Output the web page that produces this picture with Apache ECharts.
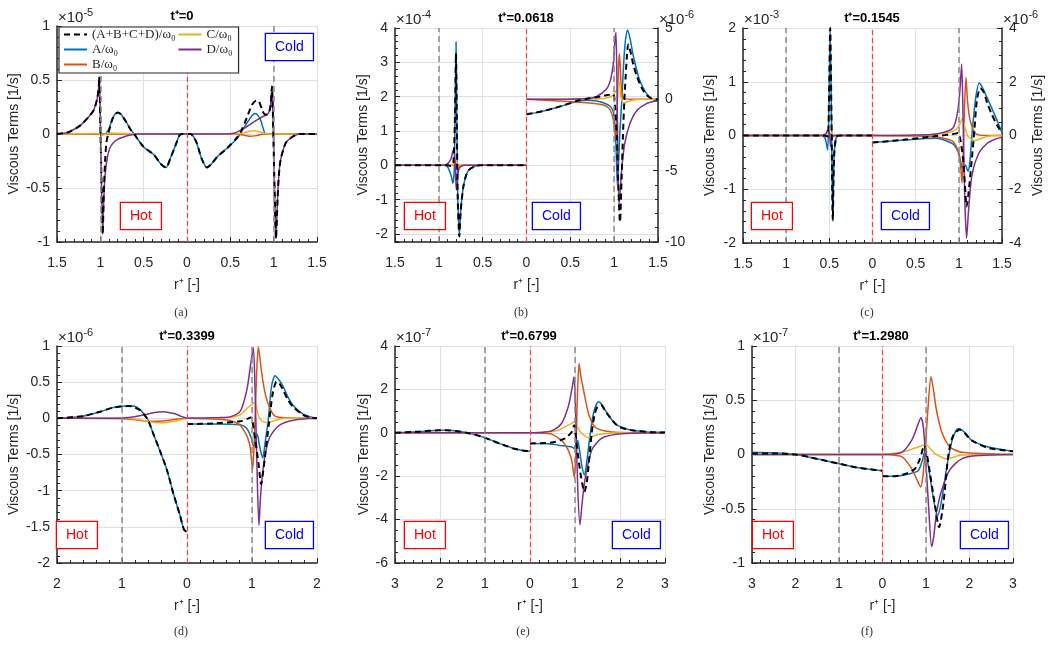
<!DOCTYPE html>
<html>
<head>
<meta charset="utf-8">
<script src="https://cdn.jsdelivr.net/npm/echarts@6.0.0/dist/echarts.min.js"></script>
<style>
  html, body { margin: 0; padding: 0; background: #fff; }
  #chart { width: 1052px; height: 662px; }
</style>
</head>
<body>
<div id="chart"></div>
<script>
// hot side arrays hold [r, value] with r as printed on the axis (left half),
// cold side arrays hold [r, value] for the right half

// (a) t+=0, x1e-5
var aSumH = [[1.5,0],[1.4,0.01],[1.346,0.025],[1.23,0.08],[1.134,0.16],[1.077,0.22],[1.038,0.32],[1.02,0.42],[1.012,0.53],[1.0,0.1],[0.985,-0.5],[0.973,-0.93],[0.96,-0.55],[0.945,-0.25],[0.93,-0.08],[0.91,0],[0.885,0.07],[0.86,0.14],[0.83,0.18],[0.8,0.2],[0.76,0.18],[0.7,0.11],[0.65,0.04],[0.61,0],[0.5,-0.12],[0.385,-0.19],[0.31,-0.27],[0.27,-0.3],[0.24,-0.31],[0.19,-0.22],[0.135,-0.11],[0.085,-0.01],[0.05,0],[0,0]];
var aAH = [[1.5,0],[0.95,0],[0.93,0.01],[0.9,0.05],[0.87,0.12],[0.835,0.18],[0.8,0.2],[0.76,0.18],[0.7,0.11],[0.65,0.04],[0.61,0],[0.5,-0.12],[0.385,-0.19],[0.31,-0.27],[0.27,-0.3],[0.24,-0.31],[0.19,-0.22],[0.135,-0.11],[0.085,-0.01],[0.05,0],[0,0]];
var aBH = [[1.5,0],[1.05,0],[0.97,-0.005],[0.9,0],[0,0]];
var aCH = [[1.5,0],[1.05,0.005],[0.97,-0.01],[0.9,0.01],[0.5,0],[0,0]];
var aDH = [[1.5,0],[1.4,0.01],[1.346,0.025],[1.23,0.08],[1.134,0.16],[1.077,0.22],[1.038,0.32],[1.02,0.42],[1.012,0.53],[1.0,0.1],[0.985,-0.5],[0.973,-0.93],[0.96,-0.6],[0.945,-0.38],[0.92,-0.22],[0.89,-0.13],[0.85,-0.08],[0.8,-0.05],[0.74,-0.03],[0.65,-0.01],[0.55,0],[0,0]];
var aSumC = [[0,0],[0.04,0],[0.08,-0.03],[0.115,-0.09],[0.17,-0.23],[0.23,-0.31],[0.28,-0.28],[0.35,-0.21],[0.465,-0.13],[0.58,-0.03],[0.62,0.02],[0.69,0.15],[0.75,0.27],[0.8,0.31],[0.83,0.3],[0.87,0.22],[0.9,0.18],[0.923,0.18],[0.95,0.21],[0.965,0.27],[0.98,0.44],[0.995,0.05],[1.01,-0.5],[1.027,-0.97],[1.045,-0.6],[1.06,-0.38],[1.08,-0.24],[1.12,-0.12],[1.15,-0.07],[1.23,-0.02],[1.3,0],[1.5,0]];
var aAC = [[0,0],[0.04,0],[0.08,-0.03],[0.115,-0.09],[0.17,-0.23],[0.23,-0.31],[0.28,-0.28],[0.35,-0.21],[0.465,-0.13],[0.58,-0.04],[0.62,0.01],[0.69,0.1],[0.75,0.17],[0.79,0.19],[0.82,0.17],[0.85,0.13],[0.88,0.05],[0.91,0],[1.5,0]];
var aBC = [[0,0],[0.55,0],[0.65,-0.01],[0.72,-0.02],[0.8,-0.015],[0.88,0],[1.5,0]];
var aCC = [[0,0],[0.55,0],[0.65,0.01],[0.72,0.025],[0.78,0.03],[0.84,0.02],[0.9,0.005],[1.0,0],[1.5,0]];
var aDC = [[0,0],[0.45,0],[0.55,0.01],[0.654,0.05],[0.73,0.09],[0.808,0.13],[0.87,0.16],[0.923,0.18],[0.95,0.21],[0.965,0.27],[0.98,0.44],[0.995,0.05],[1.01,-0.5],[1.027,-0.97],[1.045,-0.6],[1.06,-0.38],[1.08,-0.24],[1.12,-0.12],[1.15,-0.07],[1.23,-0.02],[1.3,0],[1.5,0]];

// (b) t+=0.0618, hot x1e-4, cold x1e-6 (right axis)
var bSumH = [[1.5,0],[0.9,0],[0.86,-0.02],[0.835,0.05],[0.815,1.5],[0.804,3.26],[0.795,1.3],[0.785,-0.9],[0.766,-2.07],[0.75,-1.3],[0.72,-0.62],[0.69,-0.3],[0.66,-0.14],[0.6,-0.04],[0.53,0],[0,0]];
var bAH = [[1.5,0],[0.95,0],[0.9,-0.05],[0.86,-0.3],[0.84,-0.52],[0.825,-0.2],[0.815,1.5],[0.804,3.6],[0.795,1.5],[0.785,-0.8],[0.766,-2.03],[0.75,-1.3],[0.72,-0.62],[0.69,-0.3],[0.66,-0.14],[0.6,-0.04],[0.53,0],[0,0]];
var bBH = [[1.5,0],[0.85,0],[0.81,0.05],[0.795,-0.05],[0.77,0],[0,0]];
var bCH = [[1.5,0],[0.85,0],[0.82,0.05],[0.8,0.15],[0.79,0.1],[0.775,-0.05],[0.75,0],[0,0]];
var bDH = [[1.5,0],[0.95,0],[0.9,0.05],[0.86,0.2],[0.835,0.45],[0.82,0.3],[0.81,-0.2],[0.8,-0.72],[0.79,-0.4],[0.77,-0.1],[0.74,-0.02],[0.7,0],[0,0]];
var bSumC = [[0,-1.05],[0.154,-0.87],[0.31,-0.63],[0.458,-0.35],[0.57,-0.12],[0.69,0.04],[0.8,0.15],[0.876,0.25],[0.95,0.33],[0.99,0.37],[1.01,-0.5],[1.03,-2.6],[1.05,-6.5],[1.066,-8.6],[1.085,-5.5],[1.1,-2.6],[1.115,-0.2],[1.13,1.5],[1.145,3.0],[1.16,3.85],[1.18,3.5],[1.22,2.4],[1.26,1.6],[1.31,0.85],[1.37,0.3],[1.43,0.05],[1.48,0],[1.5,0]];
var bAC = [[0,-1.05],[0.154,-0.88],[0.31,-0.63],[0.458,-0.36],[0.57,-0.15],[0.69,-0.06],[0.8,-0.12],[0.876,-0.24],[0.95,-0.47],[0.99,-0.87],[1.01,-1.9],[1.025,-4.0],[1.036,-6.0],[1.05,-4.5],[1.066,-2.2],[1.085,-0.3],[1.11,2.7],[1.13,4.2],[1.154,4.86],[1.18,4.3],[1.22,3.0],[1.29,1.35],[1.37,0.4],[1.44,0],[1.5,-0.15]];
var bBC = [[0,0],[0.31,-0.1],[0.55,-0.18],[0.69,-0.24],[0.876,-0.4],[0.95,-0.7],[0.99,-1.45],[1.02,-2.7],[1.035,-0.5],[1.05,2.3],[1.06,3.2],[1.07,2.2],[1.085,0.5],[1.1,0.15],[1.12,0.05],[1.2,0],[1.5,0]];
var bCC = [[0,0],[0.8,0.02],[0.95,0.15],[1.0,0.4],[1.04,0.8],[1.06,1.2],[1.075,0.3],[1.09,-0.15],[1.12,-0.24],[1.16,-0.15],[1.22,-0.05],[1.3,0],[1.5,0]];
var bDC = [[0,0],[0.4,0.01],[0.69,0.05],[0.8,0.2],[0.91,0.7],[0.96,1.4],[0.99,2.5],[1.005,3.8],[1.02,4.7],[1.03,2.0],[1.04,-3.0],[1.055,-7.5],[1.07,-6.3],[1.085,-4.95],[1.12,-3.1],[1.18,-1.7],[1.26,-0.78],[1.37,-0.3],[1.48,-0.1],[1.5,-0.08]];

// (c) t+=0.1545, hot x1e-3, cold x1e-6 (right axis)
var cSumH = [[1.5,0],[0.56,0],[0.52,-0.02],[0.505,0.6],[0.49,2.0],[0.475,0.3],[0.46,-1.58],[0.445,-0.4],[0.42,-0.03],[0.38,0],[0,0]];
var cAH = [[1.5,0],[0.6,0],[0.55,-0.05],[0.52,-0.27],[0.505,0.5],[0.49,1.97],[0.475,0.3],[0.46,-1.58],[0.445,-0.4],[0.42,-0.03],[0.38,0],[0,0]];
var cBH = [[1.5,0],[0.52,0],[0.49,0.02],[0.46,0],[0,0]];
var cCH = [[1.5,0],[0.5,0],[0.475,0.06],[0.46,0.02],[0.44,0],[0,0]];
var cDH = [[1.5,0],[0.6,0],[0.54,0.03],[0.52,0.1],[0.5,0.05],[0.485,-0.2],[0.47,-0.05],[0.44,0],[0,0]];
var cSumC = [[0,-0.26],[0.357,-0.16],[0.74,-0.02],[0.93,0.05],[0.994,0.09],[1.02,-0.2],[1.05,-0.9],[1.07,-1.8],[1.09,-2.64],[1.11,-2.2],[1.15,-0.9],[1.18,0.2],[1.21,1.33],[1.25,1.76],[1.29,1.6],[1.33,1.2],[1.38,0.8],[1.44,0.4],[1.5,0.1]];
var cAC = [[0,-0.26],[0.357,-0.17],[0.74,-0.1],[0.93,-0.31],[0.99,-0.6],[1.02,-0.95],[1.045,-1.28],[1.065,-1.15],[1.08,-1.11],[1.095,-1.25],[1.11,-1.33],[1.13,-0.9],[1.16,0.33],[1.2,1.5],[1.237,1.95],[1.27,1.8],[1.33,1.39],[1.39,0.95],[1.44,0.58],[1.5,0.1]];
var cBC = [[0,0],[0.5,-0.02],[0.74,-0.06],[0.93,-0.22],[1.0,-0.66],[1.02,-1.1],[1.037,-1.77],[1.05,-0.8],[1.065,1.0],[1.083,2.17],[1.1,1.3],[1.13,0.58],[1.19,0.08],[1.3,0],[1.5,0]];
var cCC = [[0,0],[0.6,0.02],[0.8,0.07],[0.93,0.15],[1.0,0.35],[1.04,0.62],[1.07,0.3],[1.1,0],[1.15,-0.15],[1.19,-0.19],[1.25,-0.12],[1.33,-0.04],[1.41,0],[1.5,0]];
var cDC = [[0,0],[0.5,0.02],[0.74,0.06],[0.93,0.27],[0.99,0.96],[1.015,1.8],[1.033,2.66],[1.05,0.5],[1.07,-2.5],[1.09,-3.82],[1.11,-2.9],[1.15,-1.52],[1.23,-0.67],[1.33,-0.29],[1.42,-0.14],[1.5,-0.07]];

// (d) t+=0.3399, x1e-6
var dSumH = [[2,0],[1.6,0.03],[1.34,0.09],[1.13,0.15],[0.9,0.17],[0.826,0.16],[0.72,0.11],[0.64,0.03],[0.6,-0.02],[0.52,-0.21],[0.42,-0.44],[0.31,-0.71],[0.21,-1.04],[0.108,-1.34],[0.046,-1.54],[0,-1.57]];
var dAH = [[2,0],[1.6,0.03],[1.34,0.09],[1.13,0.15],[0.9,0.17],[0.826,0.17],[0.72,0.12],[0.64,0.03],[0.6,-0.02],[0.52,-0.21],[0.42,-0.44],[0.31,-0.71],[0.21,-1.04],[0.108,-1.34],[0.046,-1.54],[0,-1.57]];
var dBH = [[2,0],[1.0,-0.005],[0.8,-0.02],[0.6,-0.04],[0.45,-0.04],[0.3,-0.03],[0.15,-0.01],[0,0]];
var dCH = [[2,0],[1.0,0],[0.8,-0.01],[0.6,-0.04],[0.45,-0.06],[0.35,-0.06],[0.2,-0.04],[0.1,-0.02],[0,0]];
var dDH = [[2,0],[1.1,0],[0.9,0.01],[0.675,0.045],[0.5,0.08],[0.37,0.09],[0.25,0.075],[0.17,0.06],[0.1,0.03],[0.035,0.01],[0,0]];
var dSumC = [[0,-0.08],[0.4,-0.07],[0.82,-0.04],[0.92,-0.01],[0.98,0.01],[1.0,0],[1.05,-0.3],[1.1,-0.62],[1.14,-0.91],[1.17,-0.75],[1.2,-0.53],[1.26,-0.07],[1.32,0.35],[1.38,0.51],[1.43,0.47],[1.48,0.39],[1.55,0.26],[1.63,0.16],[1.78,0.05],[1.9,0.01],[2,0]];
var dAC = [[0,-0.08],[0.4,-0.08],[0.82,-0.09],[0.92,-0.14],[0.98,-0.25],[1.03,-0.39],[1.055,-0.3],[1.08,-0.22],[1.12,-0.4],[1.165,-0.55],[1.2,-0.35],[1.25,-0.02],[1.3,0.44],[1.354,0.59],[1.4,0.55],[1.48,0.44],[1.55,0.3],[1.63,0.18],[1.78,0.06],[1.9,0.02],[2,0]];
var dBC = [[0,0],[0.4,-0.01],[0.66,-0.03],[0.8,-0.08],[0.87,-0.16],[0.93,-0.26],[0.97,-0.39],[1.01,-0.71],[1.04,-0.2],[1.07,0.6],[1.097,0.99],[1.12,0.85],[1.15,0.62],[1.19,0.4],[1.23,0.25],[1.33,0.05],[1.45,0.01],[2,0]];
var dCC = [[0,0],[0.6,0.01],[0.82,0.05],[0.95,0.16],[1.05,0.22],[1.08,0.1],[1.12,0],[1.18,-0.05],[1.25,-0.06],[1.35,-0.03],[1.5,0],[2,0]];
var dDC = [[0,0],[0.5,0.01],[0.66,0.02],[0.82,0.1],[0.92,0.39],[0.98,0.75],[1.02,0.98],[1.05,0.3],[1.08,-0.8],[1.107,-1.48],[1.13,-1.1],[1.17,-0.71],[1.22,-0.42],[1.28,-0.25],[1.43,-0.09],[1.68,-0.02],[2,0]];

// (e) t+=0.6799, x1e-7
var eSumH = [[3,0],[2.5,0.05],[2.0,0.12],[1.85,0.12],[1.6,0.07],[1.41,0],[1.2,-0.1],[1.04,-0.2],[0.85,-0.35],[0.67,-0.5],[0.5,-0.62],[0.37,-0.72],[0.2,-0.8],[0.07,-0.84],[0,-0.85]];
var eAH = [[3,0],[2.5,0.05],[2.0,0.12],[1.85,0.12],[1.6,0.07],[1.41,0],[1.2,-0.1],[1.04,-0.2],[0.85,-0.35],[0.67,-0.5],[0.5,-0.62],[0.37,-0.72],[0.2,-0.8],[0.07,-0.84],[0,-0.85]];
var eBH = [[3,0],[0,0]];
var eCH = [[3,0],[0,0]];
var eDH = [[3,0],[0,0]];
var eSumC = [[0,-0.49],[0.48,-0.45],[0.78,-0.26],[0.93,0.05],[0.98,0.35],[1.02,-0.2],[1.07,-1.1],[1.14,-2.1],[1.21,-2.72],[1.26,-2.3],[1.3,-1.57],[1.37,-0.03],[1.44,0.89],[1.5,1.2],[1.58,1.28],[1.66,1.05],[1.74,0.81],[1.96,0.3],[2.26,0.12],[2.7,0.03],[3,0.01]];
var eAC = [[0,-0.49],[0.4,-0.5],[0.63,-0.57],[0.93,-0.65],[0.98,-0.72],[1.02,-0.5],[1.06,-0.35],[1.1,-0.8],[1.15,-1.5],[1.21,-1.95],[1.27,-1.2],[1.33,-0.18],[1.41,0.89],[1.52,1.43],[1.6,1.3],[1.67,1.04],[1.89,0.43],[2.19,0.15],[2.6,0.04],[3,0.02]];
var eBC = [[0,0],[0.3,-0.02],[0.48,-0.06],[0.7,-0.34],[0.85,-0.8],[0.93,-1.3],[0.985,-2.06],[1.02,-0.8],[1.05,1.5],[1.09,3.2],[1.13,2.6],[1.19,1.97],[1.3,0.89],[1.44,0.28],[1.67,0.08],[2,0.01],[3,0]];
var eCC = [[0,0],[0.4,0.05],[0.63,0.12],[0.85,0.35],[1.0,0.51],[1.07,0.2],[1.15,-0.03],[1.3,-0.22],[1.45,-0.12],[1.59,-0.06],[2,0],[3,0]];
var eDC = [[0,0],[0.3,0.03],[0.48,0.09],[0.7,0.43],[0.85,1.2],[0.93,2.0],[0.978,2.58],[1.02,0.5],[1.06,-2.5],[1.11,-4.25],[1.16,-3.2],[1.22,-2.18],[1.37,-0.8],[1.59,-0.26],[1.96,-0.06],[2.5,-0.01],[3,0]];

// (f) t+=1.2980, x1e-7
var fSumH = [[3,0.01],[2.51,0.01],[2.0,0],[1.51,-0.04],[1.05,-0.08],[0.59,-0.12],[0.21,-0.14],[0,-0.15]];
var fAH = [[3,0.02],[2.51,0.015],[2.0,0],[1.51,-0.04],[1.05,-0.08],[0.59,-0.12],[0.21,-0.14],[0,-0.15]];
var fBH = [[3,0],[0,0]];
var fCH = [[3,0],[0,0]];
var fDH = [[3,0],[0,0]];
var fSumC = [[0,-0.2],[0.29,-0.2],[0.59,-0.17],[0.75,-0.13],[0.86,-0.04],[0.96,0.08],[1.02,0],[1.09,-0.17],[1.2,-0.45],[1.3,-0.67],[1.4,-0.45],[1.52,0.01],[1.63,0.18],[1.78,0.23],[2.05,0.13],[2.43,0.06],[3,0.03]];
var fAC = [[0,-0.2],[0.3,-0.2],[0.59,-0.18],[0.82,-0.15],[0.92,-0.05],[0.98,0.04],[1.03,-0.05],[1.09,-0.2],[1.19,-0.45],[1.27,-0.56],[1.36,-0.42],[1.48,-0.11],[1.6,0.13],[1.74,0.24],[1.9,0.2],[2.05,0.13],[2.43,0.07],[3,0.03]];
var fBC = [[0,0],[0.44,-0.02],[0.67,-0.13],[0.8,-0.24],[0.88,-0.3],[0.93,-0.2],[0.98,0.04],[1.05,0.45],[1.115,0.72],[1.17,0.6],[1.24,0.41],[1.36,0.21],[1.55,0.07],[1.82,0.02],[3,0]];
var fCC = [[0,0],[0.44,0.02],[0.75,0.06],[0.99,0.09],[1.2,0.01],[1.48,-0.04],[1.82,-0.005],[3,0]];
var fDC = [[0,0],[0.44,0.02],[0.67,0.13],[0.8,0.26],[0.885,0.34],[0.94,0.25],[0.98,0.04],[1.06,-0.48],[1.13,-0.85],[1.18,-0.75],[1.24,-0.54],[1.36,-0.33],[1.55,-0.14],[1.82,-0.04],[2.2,-0.01],[3,0]];

var seriesNames = ['(A+B+C+D)/ω₀', 'A/ω₀', 'B/ω₀', 'C/ω₀', 'D/ω₀'];
var seriesColors = ['#000000', '#0072bd', '#d95319', '#edb120', '#7e2f8e'];
var titles = ['t⁺=0', 't⁺=0.0618', 't⁺=0.1545', 't⁺=0.3399', 't⁺=0.6799', 't⁺=1.2980'];
var captions = ['(a)', '(b)', '(c)', '(d)', '(e)', '(f)'];

var SANS = "'Liberation Sans', Arial, Helvetica, sans-serif";
var SERIF = "'Liberation Serif', 'DejaVu Serif', serif";
var INK = '#262626';

var panels = [
  {grid: {left: 57, top: 26, width: 260, height: 216}, xMax: 1.5, xInt: 0.5, titleX: 182, capX: 181, capY: 313,
   y: {min: -1, max: 1, interval: 0.5, minor: 5, exp: '-5', gap: 36},
   hot: [aSumH, aAH, aBH, aCH, aDH], cold: [aSumC, aAC, aBC, aCC, aDC], hotBox: [121, 203], coldBox: [266, 34]},
  {grid: {left: 395, top: 28, width: 263, height: 214}, xMax: 1.5, xInt: 0.5, titleX: 526, capX: 521, capY: 313,
   y: {min: -2.2333, max: 4, split: 6, minor: 5, exp: '-4', gap: 25, intOnly: true},
   y2: {min: -10, max: 5, interval: 5, minor: 5, exp: '-6'},
   hot: [bSumH, bAH, bBH, bCH, bDH], cold: [bSumC, bAC, bBC, bCC, bDC], hotBox: [405, 203], coldBox: [533, 203]},
  {grid: {left: 743, top: 28, width: 259, height: 215}, xMax: 1.5, xInt: 0.5, titleX: 872, capX: 867, capY: 313,
   y: {min: -2, max: 2, interval: 1, minor: 5, exp: '-3', gap: 26},
   y2: {min: -4, max: 4, interval: 2, minor: 4, exp: '-6', gap: 29, name: true},
   hot: [cSumH, cAH, cBH, cCH, cDH], cold: [cSumC, cAC, cBC, cCC, cDC], hotBox: [752, 203], coldBox: [882, 203]},
  {grid: {left: 57, top: 346, width: 260, height: 217}, xMax: 2, xInt: 1, titleX: 187, capX: 181, capY: 632,
   y: {min: -2, max: 1, interval: 0.5, minor: 5, exp: '-6', gap: 36},
   hot: [dSumH, dAH, dBH, dCH, dDH], cold: [dSumC, dAC, dBC, dCC, dDC], hotBox: [57, 522], coldBox: [266, 522]},
  {grid: {left: 395, top: 346, width: 270, height: 217}, xMax: 3, xInt: 1, titleX: 529, capX: 523, capY: 632,
   y: {min: -6, max: 4, interval: 2, minor: 4, exp: '-7', gap: 24},
   hot: [eSumH, eAH, eBH, eCH, eDH], cold: [eSumC, eAC, eBC, eCC, eDC], hotBox: [405, 522], coldBox: [613, 522]},
  {grid: {left: 752, top: 346, width: 261, height: 217}, xMax: 3, xInt: 1, titleX: 881, capX: 867, capY: 632,
   y: {min: -1, max: 1, interval: 0.5, minor: 5, exp: '-7', gap: 35},
   hot: [fSumH, fAH, fBH, fCH, fDH], cold: [fSumC, fAC, fBC, fCC, fDC], hotBox: [753, 522], coldBox: [961, 522]}
];

function makeY(i, c, pos, named) {
  var ax = {
    type: 'value', gridIndex: i, position: pos, min: c.min, max: c.max,
    splitNumber: c.split || 5,
    name: named ? 'Viscous Terms [1/s]' : '',
    nameLocation: 'middle', nameRotate: 90, nameGap: c.gap || 30,
    nameTextStyle: {color: INK, fontSize: 14, fontFamily: SANS},
    axisLine: {show: true, onZero: false, lineStyle: {color: INK, width: 1.5}},
    axisTick: {show: true, inside: true, length: 5, lineStyle: {color: INK, width: 1}},
    minorTick: {show: true, splitNumber: c.minor, length: 3, lineStyle: {color: INK, width: 1}},
    axisLabel: {margin: 7, color: INK, fontSize: 14, fontFamily: SANS,
      formatter: function (v) {
        if (c.intOnly && Math.abs(v - Math.round(v)) > 1e-6) return '';
        return String(Math.round(v * 1000) / 1000);
      }},
    splitLine: {show: pos === 'left', lineStyle: {color: '#e0e0e0', width: 1}}
  };
  if (c.interval) ax.interval = c.interval;
  return ax;
}

function expLabel(x, y, e) {
  return {type: 'text', silent: true, style: {
    text: '{b|×10}{s|' + e + '}', x: x, y: y, fill: INK,
    align: 'left', verticalAlign: 'middle', textAlign: 'left', textVerticalAlign: 'middle',
    rich: {
      b: {fontSize: 15, fontFamily: SANS, fill: INK, lineHeight: 18, verticalAlign: 'bottom'},
      s: {fontSize: 11, fontFamily: SANS, fill: INK, lineHeight: 9, verticalAlign: 'top'}
    }}};
}

var grids = [], xAxes = [], yAxes = [], series = [], graphics = [];

panels.forEach(function (p, i) {
  grids.push(p.grid);
  xAxes.push({
    type: 'value', gridIndex: i, min: -p.xMax, max: p.xMax, interval: p.xInt,
    name: 'r⁺ [-]', nameLocation: 'middle', nameGap: 36,
    nameTextStyle: {color: INK, fontSize: 14, fontFamily: SANS},
    axisLine: {show: true, onZero: false, lineStyle: {color: INK, width: 1.5}},
    axisTick: {show: true, inside: true, length: 5, lineStyle: {color: INK, width: 1}},
    minorTick: {show: true, splitNumber: 5, length: 3, lineStyle: {color: INK, width: 1}},
    axisLabel: {margin: 14, color: INK, fontSize: 14, fontFamily: SANS,
      formatter: function (v) { return String(Math.abs(Math.round(v * 1000) / 1000)); }},
    splitLine: {show: true, lineStyle: {color: '#e0e0e0', width: 1}}
  });

  var yl = yAxes.length;
  yAxes.push(makeY(i, p.y, 'left', true));
  var yr = yl;
  if (p.y2) {
    yr = yAxes.length;
    yAxes.push(makeY(i, p.y2, 'right', !!p.y2.name));
  }

  // reference lines: interface r+=1 (grey) and centre (red)
  series.push({
    type: 'line', name: 'ref' + i, xAxisIndex: i, yAxisIndex: yl, data: [], silent: true, z: 1,
    markLine: {
      symbol: 'none', silent: true, label: {show: false}, animation: false,
      data: [
        {xAxis: -1, lineStyle: {color: '#8a8a8a', type: [6, 4], width: 1.5}},
        {xAxis: 1, lineStyle: {color: '#8a8a8a', type: [6, 4], width: 1.5}},
        {xAxis: 0, lineStyle: {color: '#ff4040', type: [5, 3], width: 1.3}}
      ]
    }
  });

  [1, 2, 3, 4, 0].forEach(function (k) {
    var isSum = k === 0;
    var style = {color: seriesColors[k], width: isSum ? 2 : 1.5, type: isSum ? [6, 4] : 'solid'};
    [['hot', yl], ['cold', yr]].forEach(function (side) {
      var arr = p[side[0]][k];
      var pts = arr.map(function (d) { return [side[0] === 'hot' ? -d[0] : d[0], d[1]]; });
      series.push({
        type: 'line', name: seriesNames[k], xAxisIndex: i, yAxisIndex: side[1],
        data: pts, showSymbol: false, symbol: 'none', smooth: 0.25,
        color: seriesColors[k], lineStyle: style, z: isSum ? 4 : 3, silent: true
      });
    });
  });

  var g = p.grid;
  graphics.push({type: 'text', silent: true, style: {
    text: titles[i], x: p.titleX, y: g.top - 10, fill: '#000', font: 'bold 13px ' + SANS,
    align: 'center', verticalAlign: 'middle', textAlign: 'center', textVerticalAlign: 'middle'}});
  graphics.push(expLabel(g.left + 1, g.top - 10, p.y.exp));
  if (p.y2) graphics.push(expLabel(g.left + g.width + 1, g.top - 10, p.y2.exp));
  graphics.push({type: 'text', silent: true, style: {
    text: captions[i], x: p.capX, y: p.capY, fill: '#333', font: '12px ' + SERIF,
    align: 'center', verticalAlign: 'middle', textAlign: 'center', textVerticalAlign: 'middle'}});
  [['Hot', '#ff0000', p.hotBox], ['Cold', '#0000ff', p.coldBox]].forEach(function (b) {
    graphics.push({type: 'text', silent: true, z: 10, style: {
      text: b[0], x: b[2][0], y: b[2][1], fill: b[1], font: '14px ' + SANS, lineHeight: 16,
      backgroundColor: '#fff', borderColor: b[1], borderWidth: 1.3, padding: [5, 9, 5, 9],
      align: 'left', verticalAlign: 'top', textAlign: 'left', textVerticalAlign: 'top'}});
  });
});

var chart = echarts.init(document.getElementById('chart'), null, {renderer: 'canvas'});
chart.setOption({
  animation: false,
  backgroundColor: '#fff',
  grid: grids,
  xAxis: xAxes,
  yAxis: yAxes,
  legend: {
    data: seriesNames, selectedMode: false, orient: 'vertical',
    left: 59, top: 27, height: 52, itemWidth: 23, itemHeight: 10, itemGap: 2,
    padding: [1, 6, 2, 4], backgroundColor: '#fff', borderColor: INK, borderWidth: 1.2,
    itemStyle: {opacity: 0, borderWidth: 0},
    textStyle: {color: INK, fontSize: 13, fontFamily: SERIF}, z: 20
  },
  series: series,
  graphic: graphics
});
</script>
</body>
</html>
